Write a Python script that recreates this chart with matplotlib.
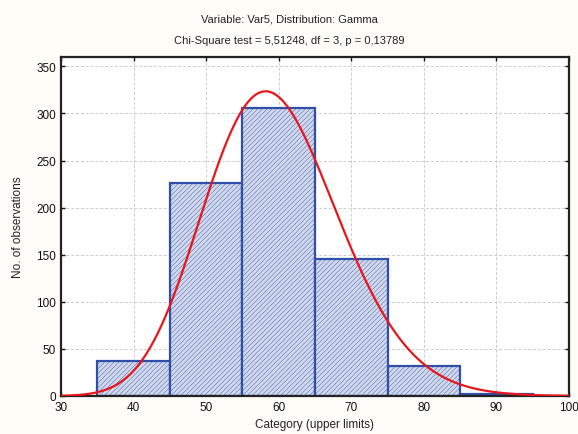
import math
import numpy as np
import matplotlib
matplotlib.use("Agg")
import matplotlib.pyplot as plt

plt.rcParams['font.family'] = ['Liberation Sans', 'DejaVu Sans']
plt.rcParams['hatch.color'] = '#c0c9e1'
plt.rcParams['hatch.linewidth'] = 0.3

# histogram: bin upper limits and observed counts
bin_edges = [35, 45, 55, 65, 75, 85, 95]
counts = [37, 226, 306, 145, 32, 2]

# fitted gamma (shape, scale), scaled to counts per bin
shape_k = 41.0
scale_theta = 1.455
n_obs = sum(counts)
bin_width = 10

title_1 = "Variable: Var5, Distribution: Gamma"
title_2 = "Chi-Square test = 5,51248, df = 3, p = 0,13789"


def gamma_pdf(x, k, th):
    return np.exp((k - 1) * np.log(x) - x / th - math.lgamma(k) - k * math.log(th))


fig = plt.figure(figsize=(5.78, 4.35), dpi=100, facecolor='#fffdf8')
ax = fig.add_axes([0.1055, 0.0874, 0.8789, 0.7793])
ax.set_facecolor('white')

lefts = bin_edges[:-1]
ax.bar(lefts, counts, width=bin_width, align='edge', color='#d2d9ec',
       edgecolor='#2f4fa8', linewidth=1.6, hatch='///////', zorder=2)

xs = np.linspace(30, 100, 400)
ys = n_obs * bin_width * gamma_pdf(xs, shape_k, scale_theta)
ax.plot(xs, ys, color='#e8161c', linewidth=1.6, zorder=3)

ax.set_xlim(30, 100)
ax.set_ylim(0, 360)
ax.set_xticks(np.arange(30, 101, 10))
ax.set_yticks(np.arange(0, 351, 50))
ax.grid(True, linestyle=(0, (3, 2)), color='#cccccc', linewidth=0.7, zorder=0)
ax.set_axisbelow(True)
ax.tick_params(direction='in', length=3, width=1, labelsize=8.5, colors='#111111',
               top=True, right=True)
for s in ax.spines.values():
    s.set_linewidth(1.6)
    s.set_color('#222222')

ax.set_xlabel("Category (upper limits)", fontsize=8.5, color='#222222')
ax.set_ylabel("No. of observations", fontsize=8.5, color='#222222', labelpad=9)

fig.text(0.5, 1 - 19 / 435, title_1, ha='center', va='center', fontsize=8, color='#222222')
fig.text(0.5, 1 - 41 / 435, title_2, ha='center', va='center', fontsize=8, color='#222222')

fig.savefig("out.png", dpi=100, facecolor=fig.get_facecolor())
